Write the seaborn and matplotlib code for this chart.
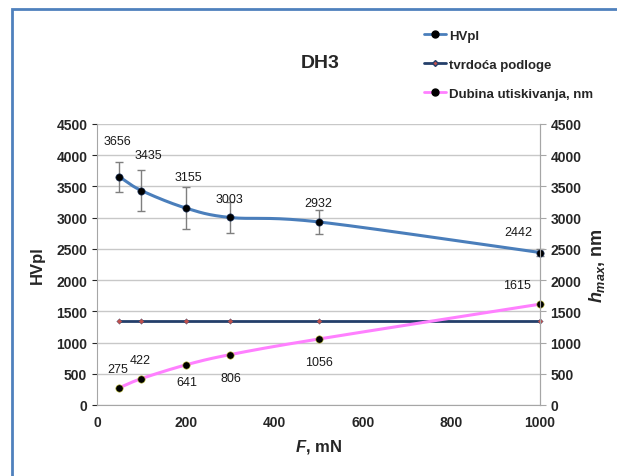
import numpy as np
import pandas as pd
import seaborn as sns
import matplotlib.pyplot as plt
from matplotlib.lines import Line2D
from matplotlib.patches import Rectangle

# data
force = [50, 100, 200, 300, 500, 1000]
hvpl = [3656, 3435, 3155, 3003, 2932, 2442]
hvpl_err = [240, 335, 335, 250, 190, 50]
substrate = [1350, 1350, 1350, 1350, 1350, 1350]
depth = [275, 422, 641, 806, 1056, 1615]

# label offsets in pixels (dx, dy)
hv_off = [(-2, 36), (7, 36), (3, 31), (0, 18), (0, 19), (-22, 21)]
dp_off = [(-1, 19), (-1, 19), (1, -17), (1, -23), (0, -23), (-23, 19)]

sns.set_style("white")
plt.rcParams['font.family'] = ['Liberation Sans', 'DejaVu Sans']
plt.rcParams['mathtext.fontset'] = 'custom'
plt.rcParams['mathtext.it'] = 'Liberation Sans:italic:bold'
plt.rcParams['mathtext.rm'] = 'Liberation Sans:bold'


def smooth(xs, ys, n=30):
    # Catmull-Rom through the points, in screen-like proportions
    px = np.array(xs, float) / 1000 * 443
    py = np.array(ys, float) / 4500 * 281
    P = np.column_stack([px, py])
    P = np.vstack([2 * P[0] - P[1], P, 2 * P[-1] - P[-2]])
    out = []
    for i in range(1, len(P) - 2):
        p0, p1, p2, p3 = P[i - 1], P[i], P[i + 1], P[i + 2]
        t = np.linspace(0, 1, n)[:, None]
        seg = 0.5 * ((2 * p1) + (-p0 + p2) * t + (2 * p0 - 5 * p1 + 4 * p2 - p3) * t ** 2
                     + (-p0 + 3 * p1 - 3 * p2 + p3) * t ** 3)
        out.append(seg)
    out = np.vstack(out)
    return out[:, 0] * 1000 / 443, out[:, 1] * 4500 / 281


fig = plt.figure(figsize=(6.17, 4.77), dpi=100)
fig.patches.append(Rectangle((12 / 617, -0.1), 1.2, 1.1 - 10 / 477, transform=fig.transFigure,
                             fill=False, edgecolor='#4f81bd', linewidth=2, zorder=0))
ax = fig.add_axes([97 / 617, 71 / 477, 443 / 617, 281 / 477])

hv_col = '#4a7ebb'
sub_col = '#243f6a'
dp_col = '#ff80ff'

sx, sy = smooth(force, hvpl)
sns.lineplot(x=sx, y=sy, ax=ax, color=hv_col, linewidth=2.2, sort=False, estimator=None)
ax.errorbar(force, hvpl, yerr=hvpl_err, fmt='none', ecolor='#7f7f7f', elinewidth=1, capsize=3,
            zorder=3, clip_on=False)
sns.scatterplot(x=force, y=hvpl, ax=ax, color='black', s=28, zorder=4, edgecolor='#1f3864', clip_on=False)

sns.lineplot(x=force, y=substrate, ax=ax, color=sub_col, linewidth=2, estimator=None)
sns.scatterplot(x=force, y=substrate, ax=ax, color='#c0504d', marker='D', s=8, zorder=4,
                edgecolor=sub_col, clip_on=False)

dx, dy = smooth(force, depth)
sns.lineplot(x=dx, y=dy, ax=ax, color=dp_col, linewidth=2.2, sort=False, estimator=None)
sns.scatterplot(x=force, y=depth, ax=ax, color='black', s=28, zorder=4, edgecolor='#b8b830', clip_on=False)

for x, y, (ox, oy) in zip(force, hvpl, hv_off):
    ax.annotate(str(y), (x, y), xytext=(ox * 0.72, oy * 0.72), textcoords='offset points',
                ha='center', va='center', fontsize=9, color='#1a1a1a')
for x, y, (ox, oy) in zip(force, depth, dp_off):
    ax.annotate(str(y), (x, y), xytext=(ox * 0.72, oy * 0.72), textcoords='offset points',
                ha='center', va='center', fontsize=9, color='#1a1a1a')

ax.set_xlim(0, 1000)
ax.set_ylim(0, 4500)
ax.set_xticks(range(0, 1001, 200))
ax.set_yticks(range(0, 4501, 500))
ax.yaxis.grid(True, color='#c8c8c8', linewidth=1)
ax.set_axisbelow(True)
ax.spines['top'].set_visible(False)
for s in ['left', 'bottom', 'right']:
    ax.spines[s].set_color('#a6a6a6')
ax.tick_params(labelsize=10)
for lb in ax.get_xticklabels() + ax.get_yticklabels():
    lb.set_fontweight('bold')
ax.set_ylabel('HVpl', fontsize=12, fontweight='bold', labelpad=8)
ax.set_xlabel(r'$F$, mN', fontsize=12, fontweight='bold', labelpad=6)

ax2 = ax.twinx()
ax2.set_ylim(0, 4500)
ax2.set_yticks(range(0, 4501, 500))
ax2.tick_params(labelsize=10, length=4, color='#a6a6a6')
for lb in ax2.get_yticklabels():
    lb.set_fontweight('bold')
for s in ['top', 'left', 'bottom']:
    ax2.spines[s].set_visible(False)
ax2.spines['right'].set_color('#a6a6a6')
ax2.set_ylabel(r'$h_{max}$, nm', fontsize=13, fontweight='bold', labelpad=4)

fig.text(320 / 617, 1 - 63 / 477, 'DH3', ha='center', va='center', fontsize=14, fontweight='bold')

handles = [
    Line2D([], [], color=hv_col, lw=2, marker='o', markersize=5, markerfacecolor='black', markeredgecolor='black'),
    Line2D([], [], color=sub_col, lw=2, marker='D', markersize=3, markerfacecolor='#c0504d', markeredgecolor=sub_col),
    Line2D([], [], color=dp_col, lw=2, marker='o', markersize=5, markerfacecolor='black', markeredgecolor='black'),
]
fig.legend(handles, ['HVpl', 'tvrdoća podloge', 'Dubina utiskivanja, nm'],
           loc='upper left', bbox_to_anchor=(412 / 617, 1 - 19 / 477), frameon=False,
           prop={'weight': 'bold', 'size': 9.5}, handlelength=1.7, handletextpad=0.2, labelspacing=1.25)

fig.savefig('out.png', dpi=100)
